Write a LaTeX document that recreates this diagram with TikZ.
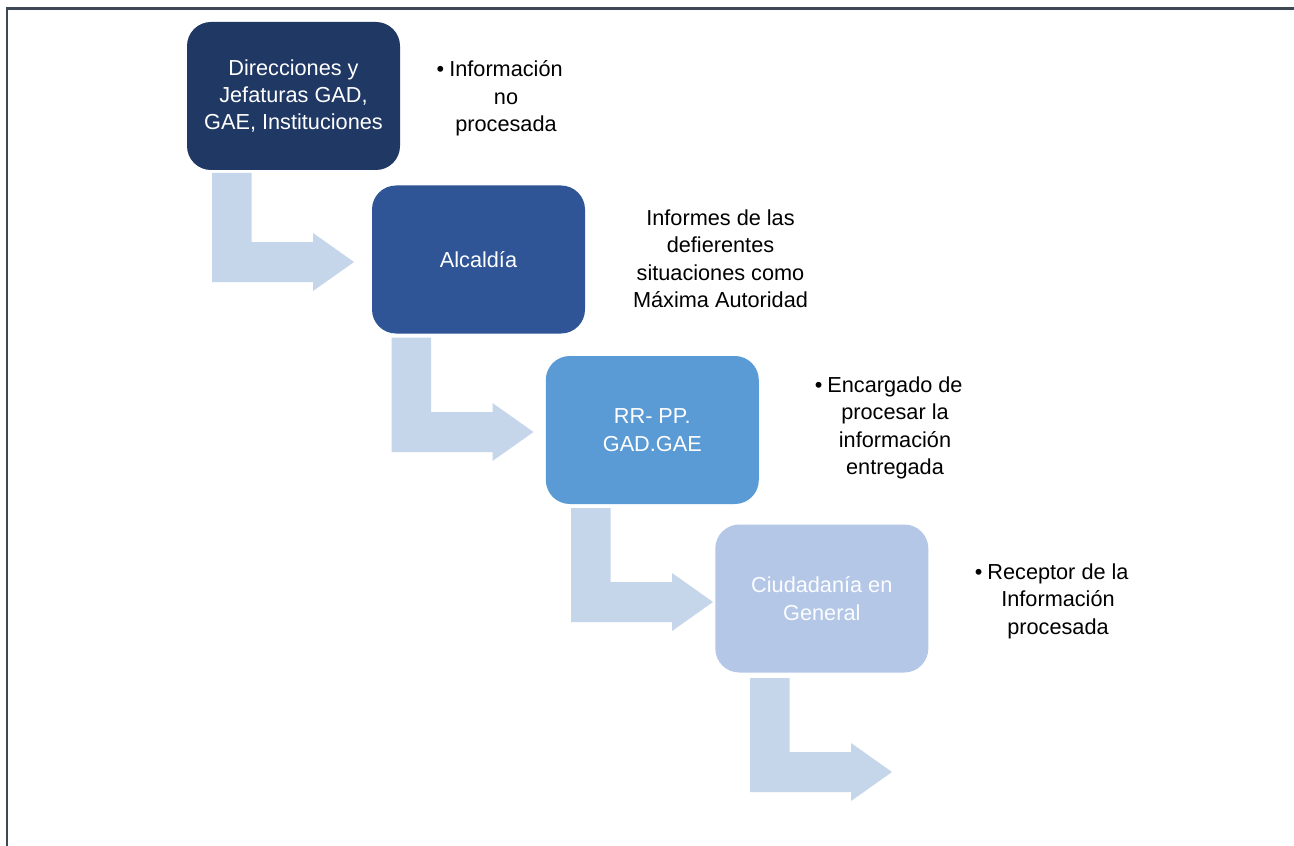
\documentclass[tikz,border=0pt]{standalone}
\usepackage{fontspec}
\setmainfont{Liberation Sans}
\usetikzlibrary{positioning}
\definecolor{navyA}{RGB}{32,56,100}
\definecolor{blueB}{RGB}{47,85,151}
\definecolor{blueC}{RGB}{91,155,213}
\definecolor{blueD}{RGB}{180,199,231}
\definecolor{arrowfill}{RGB}{197,213,234}
\definecolor{framegray}{RGB}{62,71,84}
\newcommand{\BentArrow}[3]{%
    \fill[arrowfill] (#1,#2) -- ++(39.5,0) |- (#1+101,#3-40) -- (#1+101,#3-49)
        -- (#1+142,#3-20) -- (#1+101,#3+9) -- (#1+101,#3) -- (#1,#3) -- cycle;
}
\tikzset{
    stage/.style={rounded corners=12pt, minimum width=106.5pt, minimum height=74pt,
        inner sep=0pt, align=center, text=white,
        font=\fontsize{10.85}{13.65}\selectfont},
    note/.style={align=center, inner sep=0pt, text=black, yshift=-0.9pt,
        font=\fontsize{10.85}{13.65}\selectfont}
}
\newcommand{\bul}{\llap{\textbullet\hspace{2.5pt}}}

\begin{document}
\begin{tikzpicture}[x=0.5pt, y=-0.5pt]
    \useasboundingbox (0,0) rectangle (1294,845);
    \fill[white] (0,0) rectangle (1294,845);
    \draw[framegray, line width=1.25pt] (6.8,850) -- (6.8,8.7) -- (1300,8.7);

    % Coordinates of the stages
    \coordinate (P1) at (293.5, 96);
    \coordinate (P2) at (478.5, 259.5);
    \coordinate (P3) at (652.3, 430);
    \coordinate (P4) at (821.8, 598.5);

    % bent arrows: stem x, stem top, bar bottom
    \foreach \ax/\ay/\ab in {212/173/282, 391.5/337.5/452, 571/508/622, 750/678/792} {
        \BentArrow{\ax}{\ay}{\ab}
    }

    \node[stage, fill=navyA] (direcciones) at (P1) {Direcciones y\\Jefaturas GAD,\\GAE, Instituciones};
    \node[stage, fill=blueB] (alcaldia) at (P2) {Alcaldía};
    \node[stage, fill=blueC] (rrpp) at (P3) {RR- PP.\\GAD.GAE};
    \node[stage, fill=blueD, text=white!96!blueD] (ciudadania) at (P4) {Ciudadanía en\\General};

    \node[note] (info) at (506, 96.5) {\bul Información\\no\\procesada};
    \node[note] (informes) at (720.5, 257) {Informes de las\\defierentes\\situaciones como\\Máxima Autoridad};
    \node[note] (encargado) at (895, 426) {\bul Encargado de\\procesar la\\información\\entregada};
    \node[note] (receptor) at (1058, 599.5) {\bul Receptor de la\\Información\\procesada};
\end{tikzpicture}
\end{document}
